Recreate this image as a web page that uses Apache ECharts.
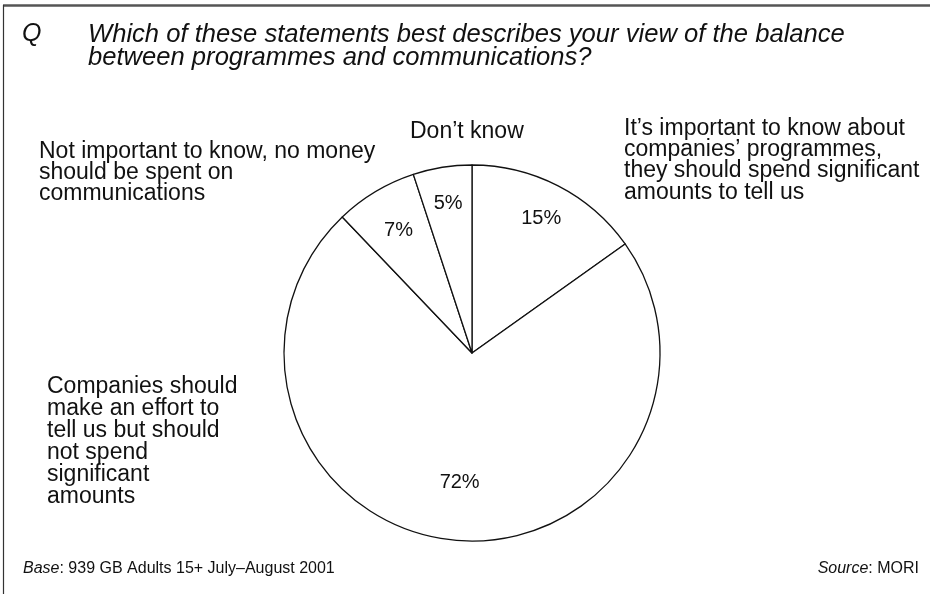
<!DOCTYPE html>
<html>
<head>
<meta charset="utf-8">
<script src="https://cdn.jsdelivr.net/npm/echarts@6/dist/echarts.min.js"></script>
<style>html,body{margin:0;padding:0;background:#fff}#c{width:930px;height:594px}</style>
</head>
<body>
<div id="c"></div>
<script>
const categories = [
  "It\u2019s important to know about\ncompanies\u2019 programmes,\nthey should spend significant\namounts to tell us",
  "Companies should\nmake an effort to\ntell us but should\nnot spend\nsignificant\namounts",
  "Not important to know, no money\nshould be spent on\ncommunications",
  "Don\u2019t know"
];
const values = [15, 72, 7, 5];
const titleLines = ["Which of these statements best describes your view of the balance", "between programmes and communications?"];
const baseText = "939 GB Adults 15+ July\u2013August 2001";
const sourceText = "MORI";

const FONT = "'Liberation Sans', Arial, Helvetica, sans-serif";
const chart = echarts.init(document.getElementById('c'), null, {renderer: 'canvas'});
const pieData = categories.map((n, i) => ({name: n, value: values[i]}));
const center = [472, 353];
const R = 188;

function labelSeries(mid, showIdx) {
  return {
    type: 'pie', center: center, radius: [mid - 20, mid + 20], startAngle: 90, clockwise: true,
    silent: true, animation: false, z: 5,
    itemStyle: {color: 'rgba(0,0,0,0)', borderWidth: 0},
    label: {show: true, position: 'inside', formatter: p => showIdx.includes(p.dataIndex) ? p.value + '%' : '',
      color: '#111', fontSize: 20, fontFamily: FONT},
    labelLine: {show: false},
    data: pieData
  };
}

const labelPos = [
  {x: 624, y: 117, i: 0, lh: 21.3},
  {x: 47, y: 375, i: 1, lh: 22},
  {x: 39, y: 140, i: 2, lh: 21},
  {x: 410, y: 120, i: 3, lh: 21}
];

chart.setOption({
  animation: false,
  series: [
    {
      type: 'pie', center: center, radius: [0, R], startAngle: 90, clockwise: true,
      silent: true, z: 2,
      itemStyle: {color: '#fff', borderColor: '#111', borderWidth: 1.3},
      label: {show: false}, labelLine: {show: false},
      data: pieData
    },
    labelSeries(148, [0, 3]),
    labelSeries(140, [2]),
    labelSeries(127, [1])
  ],
  graphic: [
    {type: 'line', shape: {x1: 3, y1: 5.5, x2: 930, y2: 5.5}, style: {stroke: '#555', lineWidth: 2.5}},
    {type: 'line', shape: {x1: 3.5, y1: 5, x2: 3.5, y2: 594}, style: {stroke: '#333', lineWidth: 1.2}},
    {type: 'text', left: 22, top: 22, style: {text: 'Q', font: 'italic 25px ' + FONT, lineHeight: 24, fill: '#111'}},
    {type: 'text', left: 88, top: 22, style: {text: titleLines.join('\n'), font: 'italic 25.6px ' + FONT, lineHeight: 23, fill: '#111'}},
    ...labelPos.map(p => ({type: 'text', left: p.x, top: p.y,
      style: {text: categories[p.i], font: '23px ' + FONT, lineHeight: p.lh, fill: '#111'}})),
    {type: 'text', left: 23, top: 561, style: {
      text: '{i|Base}: ' + baseText, font: '16px ' + FONT, fill: '#111',
      rich: {i: {fontStyle: 'italic', fontSize: 16, fontFamily: FONT}}}},
    {type: 'text', right: 11, top: 561, style: {
      text: '{i|Source}: ' + sourceText, font: '16px ' + FONT, fill: '#111',
      rich: {i: {fontStyle: 'italic', fontSize: 16, fontFamily: FONT}}}}
  ]
});
</script>
</body>
</html>
